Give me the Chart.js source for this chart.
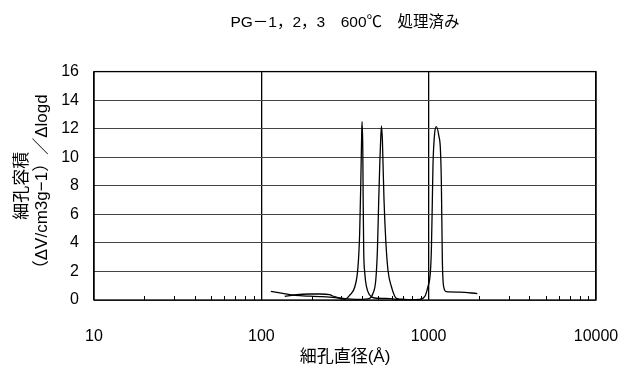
<!DOCTYPE html>
<html>
<head>
<meta charset="utf-8">
<script src="https://cdn.jsdelivr.net/npm/chart.js@4/dist/chart.umd.min.js"></script>
<style>
  html, body { margin: 0; padding: 0; background: #fff; }
  canvas { display: block; }
</style>
</head>
<body>
<canvas id="c" width="628" height="370"></canvas>
<script>
// Pore size distributions (dV/dlogD) after 600 °C treatment
const poreDiameterA = [114, 129, 148, 170, 195, 224, 256, 294, 315, 338, 362, 378, 387, 393, 398, 400, 404, 406, 409, 415, 425, 444, 476, 585, 671];
const poreVolumeA   = [0.6, 0.5, 0.38, 0.3, 0.27, 0.24, 0.2, 0.12, 0.05, 0.35, 0.93, 2.3, 4.7, 8.2, 11.7, 12.5, 10.5, 7, 3.5, 1.9, 0.93, 0.35, 0.14, 0.1, 0.02];

const poreDiameterB = [138, 158, 195, 224, 256, 267, 315, 387, 444, 465, 483, 494, 503, 510, 515, 522, 529, 534, 541, 554, 571, 599, 642, 719, 824];
const poreVolumeB   = [0.25, 0.35, 0.42, 0.42, 0.38, 0.28, 0.1, 0.05, 0.12, 0.47, 1.4, 3.5, 7, 9.4, 10.8, 12.2, 11.2, 9.4, 7, 4.2, 2.1, 0.93, 0.12, 0.05, 0];

const poreDiameterC = [671, 770, 884, 947, 990, 1023, 1038, 1052, 1061, 1086, 1112, 1152, 1175, 1191, 1207, 1229, 1275, 1531, 1953];
const poreVolumeC   = [0, 0.02, 0.05, 0.23, 0.93, 1.9, 3.5, 7, 9.4, 11.7, 12.15, 11.46, 10.6, 8.2, 2.8, 0.93, 0.58, 0.55, 0.45];

// Axis ticks
const xTickValues = [10, 20, 30, 40, 50, 60, 70, 80, 90,
                     100, 200, 300, 400, 500, 600, 700, 800, 900,
                     1000, 2000, 3000, 4000, 5000, 6000, 7000, 8000, 9000, 10000];
const xTickLabels = [10, 100, 1000, 10000];
const yTicks = [0, 2, 4, 6, 8, 10, 12, 14, 16];

const toPoints = (xs, ys) => xs.map((x, i) => ({ x: x, y: ys[i] }));

const latinFont = "'Liberation Sans', Arial, 'Noto Sans CJK JP', sans-serif";

const seriesStyle = {
  borderColor: '#000',
  borderWidth: 1.3,
  pointRadius: 0,
  fill: false,
  cubicInterpolationMode: 'monotone'
};

// Frame around the plot and short inward minor ticks on the bottom edge
const frameAndMinorTicks = {
  id: 'frameAndMinorTicks',
  afterDatasetsDraw(chart) {
    const { ctx, chartArea: a, scales } = chart;
    const xs = scales.x;
    ctx.save();
    ctx.strokeStyle = '#000';
    ctx.lineWidth = 1;
    xTickValues.forEach(v => {
      if (xTickLabels.includes(v)) return;
      const px = Math.round(xs.getPixelForValue(v)) + 0.5;
      ctx.beginPath();
      ctx.moveTo(px, a.bottom);
      ctx.lineTo(px, a.bottom - 4);
      ctx.stroke();
    });
    ctx.lineWidth = 1.3;
    ctx.strokeRect(a.left, a.top, a.right - a.left, a.bottom - a.top);
    ctx.restore();
  }
};

new Chart(document.getElementById('c'), {
  type: 'line',
  data: {
    datasets: [
      Object.assign({ label: 'PG-1', data: toPoints(poreDiameterA, poreVolumeA) }, seriesStyle),
      Object.assign({ label: 'PG-2', data: toPoints(poreDiameterB, poreVolumeB) }, seriesStyle),
      Object.assign({ label: 'PG-3', data: toPoints(poreDiameterC, poreVolumeC) }, seriesStyle)
    ]
  },
  options: {
    responsive: false,
    animation: false,
    devicePixelRatio: 1,
    layout: { padding: { left: 0, right: 32, top: 0, bottom: 0 } },
    plugins: {
      legend: { display: false },
      tooltip: { enabled: false },
      title: {
        display: true,
        fullSize: false,
        text: 'PG－1，2，3　600℃　処理済み',
        color: '#000',
        font: { family: latinFont, size: 15.5, weight: 'normal' },
        padding: { top: 13, bottom: 40 }
      }
    },
    scales: {
      x: {
        type: 'logarithmic',
        min: 10,
        max: 10000,
        afterBuildTicks(scale) {
          scale.ticks = xTickValues.map(v => ({ value: v }));
        },
        afterFit(scale) {
          scale.height = 70;
          scale.paddingLeft = 0;
          scale.paddingRight = 0;
        },
        ticks: {
          autoSkip: false,
          maxRotation: 0,
          color: '#000',
          padding: 27,
          font: { family: latinFont, size: 16 },
          callback: (v) => xTickLabels.includes(v) ? String(v) : ''
        },
        grid: {
          drawTicks: false,
          lineWidth: 1.3,
          color: (ctx) => (ctx.tick && xTickLabels.includes(ctx.tick.value)) ? '#000' : 'rgba(0,0,0,0)'
        },
        border: { display: false },
        title: {
          display: true,
          text: '細孔直径(Å)',
          color: '#000',
          font: { family: latinFont, size: 17 },
          padding: { top: 0, bottom: 2 }
        }
      },
      y: {
        min: 0,
        max: 16,
        afterBuildTicks(scale) {
          scale.ticks = yTicks.map(v => ({ value: v }));
        },
        afterFit(scale) { scale.width = 94; },
        ticks: {
          color: '#000',
          padding: 15,
          font: { family: latinFont, size: 16 }
        },
        grid: {
          drawTicks: false,
          lineWidth: 1,
          color: '#444'
        },
        border: { display: false },
        title: {
          display: true,
          text: ['細孔容積', '（ΔV/cm3g−1）／Δlogd'],
          color: '#000',
          font: { family: latinFont, size: 17 },
          padding: { top: 12, bottom: 0 }
        }
      }
    }
  },
  plugins: [frameAndMinorTicks]
});
</script>
</body>
</html>
